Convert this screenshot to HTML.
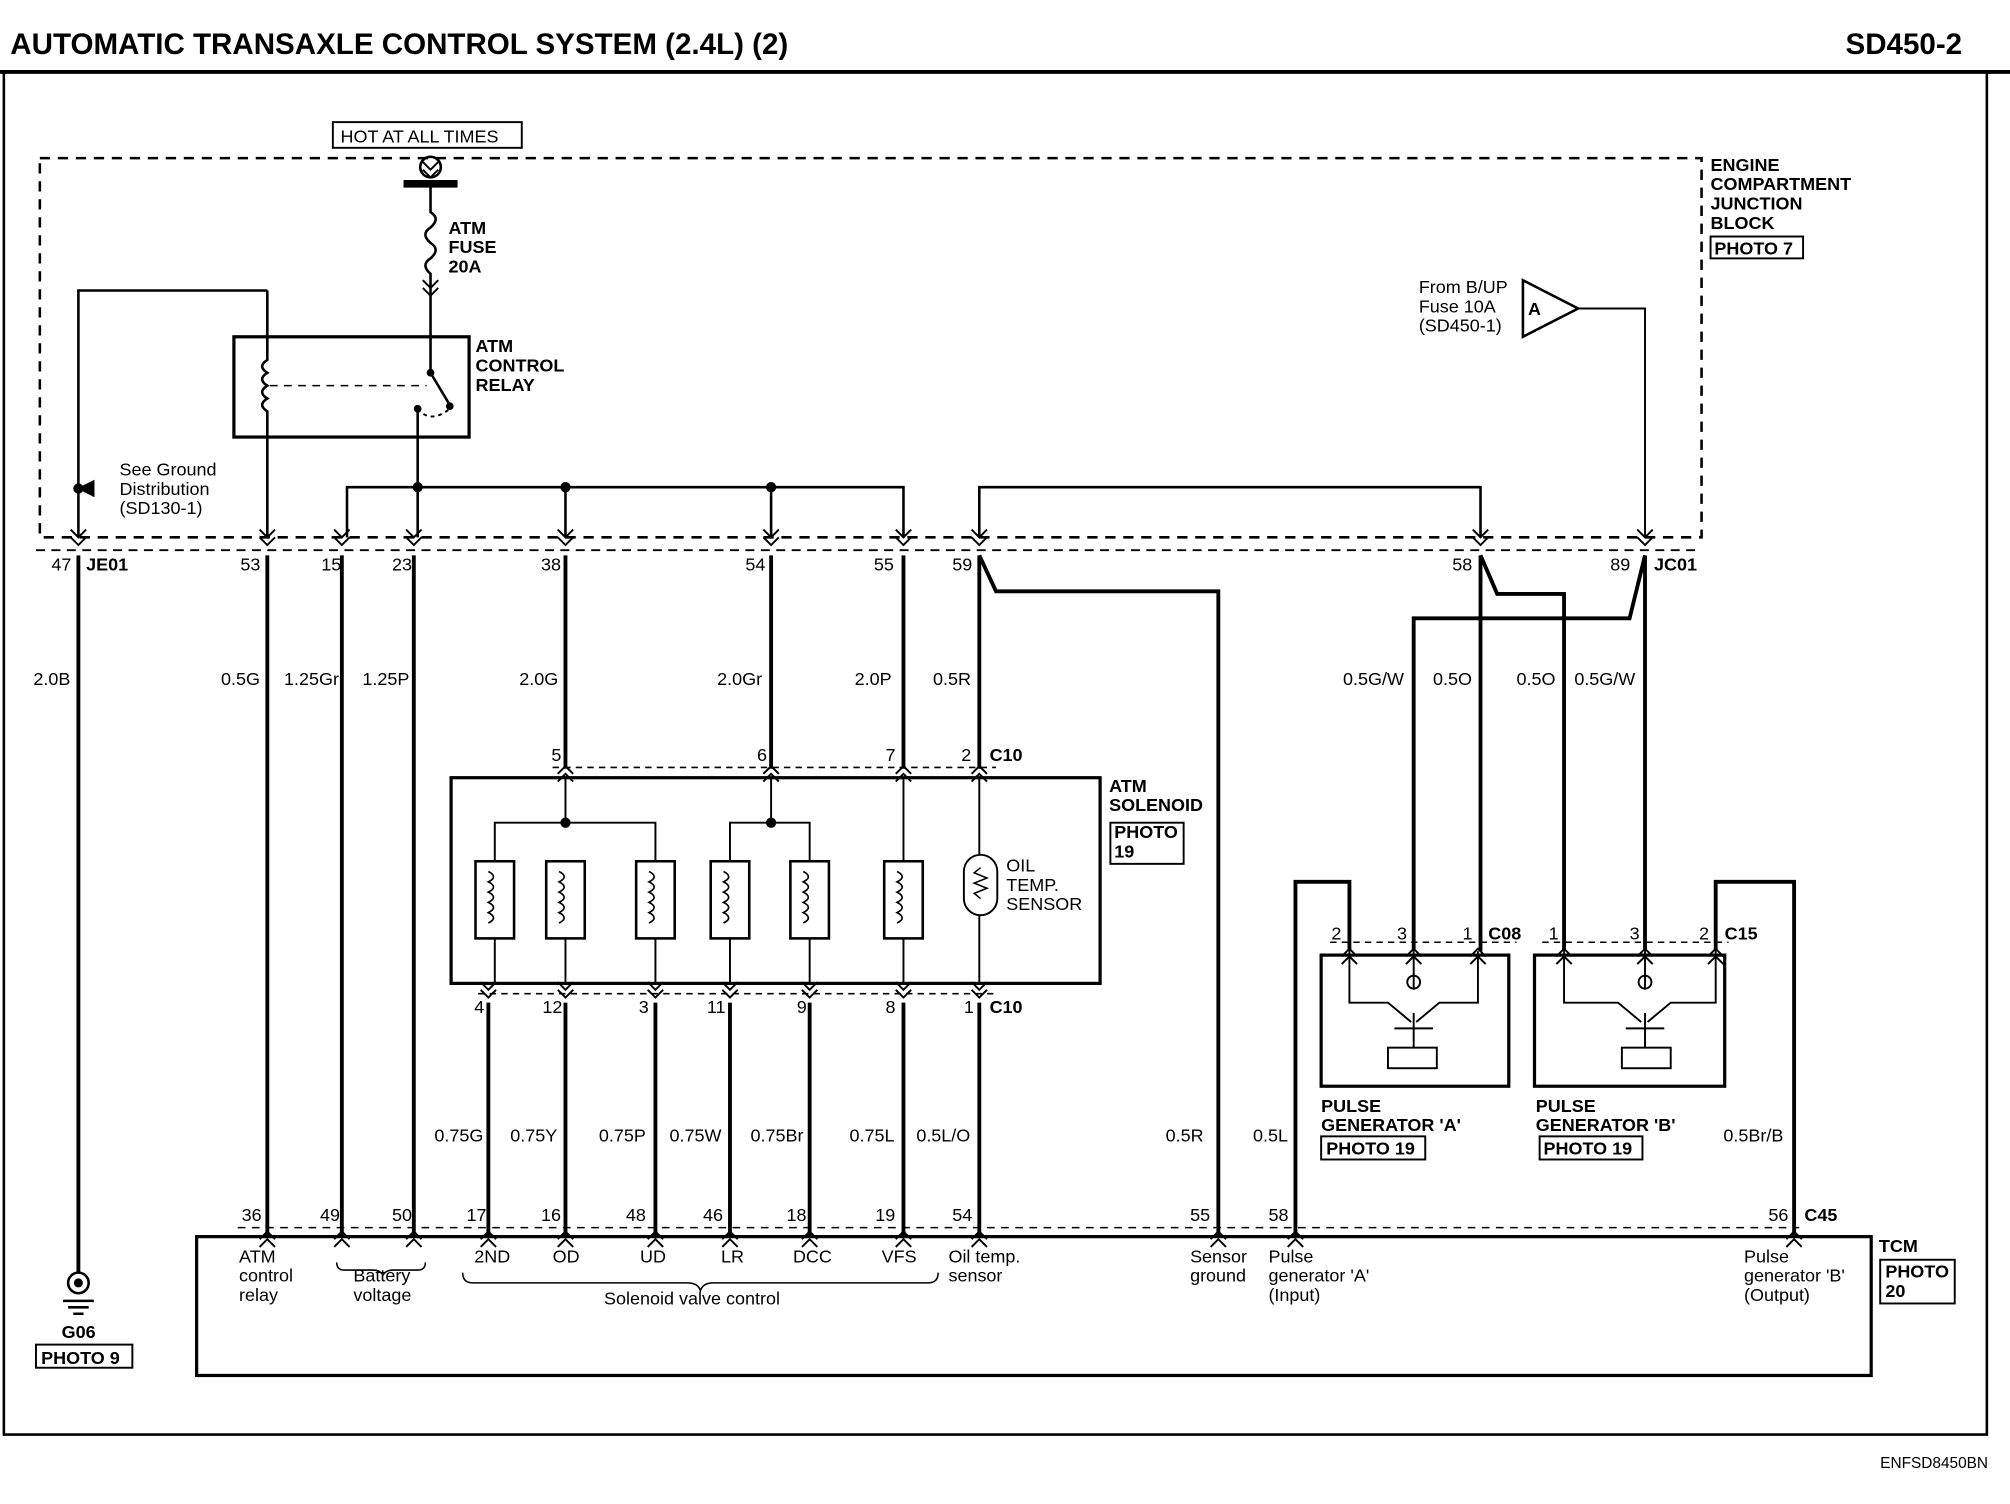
<!DOCTYPE html>
<html><head><meta charset="utf-8"><style>
html,body{margin:0;padding:0;background:#fff}
svg{display:block}
text{font-family:"Liberation Sans",Arial,sans-serif;font-size:14px;fill:#000}
.b{font-weight:bold}
</style></head><body>
<svg width="2010" height="1504" viewBox="0 0 1564 1170" preserveAspectRatio="none" xmlns="http://www.w3.org/2000/svg">
<defs>
<g id="cd" fill="none" stroke="#000" stroke-width="1.5"><path d="M-6,-14 L0,-8 L6,-14 M-6,-8 L0,-2 L6,-8"/></g>
<g id="cu" fill="none" stroke="#000" stroke-width="1.5"><path d="M-6,14 L0,8 L6,14 M-6,8 L0,2 L6,8"/></g>
</defs>
<rect width="1564" height="1170" fill="#fff"/>
<text x="8" y="42" class="b" style="font-size:23px">AUTOMATIC TRANSAXLE CONTROL SYSTEM (2.4L) (2)</text>
<text x="1436" y="42" class="b" style="font-size:23px">SD450-2</text>
<g stroke="#000" fill="none">
<line x1="0" y1="56" x2="1564" y2="56" stroke-width="3"/>
<path d="M3,56 V1116 H1546 V56" stroke-width="2"/>
<!-- junction block -->
<rect x="31" y="123" width="1293" height="295" stroke-width="2" stroke-dasharray="8,6"/>
<rect x="259" y="95" width="147" height="20" stroke-width="1.5"/>
<circle cx="335" cy="130" r="8" stroke-width="2"/>
<line x1="314" y1="143" x2="356" y2="143" stroke-width="6"/>
<path d="M335,145 V165 q8,5 0,12 q-8,5 0,12 q8,5 0,12 q-8,5 0,12 V262" stroke-width="2"/>
<!-- relay -->
<rect x="182" y="262" width="183" height="78" stroke-width="2.5"/>
<path d="M208,226 V280 q-8,5 0,10 q-8,5 0,10 q-8,5 0,10 q-8,5 0,10 V418" stroke-width="2"/>
<path d="M208,226 H61 V418" stroke-width="2"/>
<path d="M210,300 H332" stroke-width="1.2" stroke-dasharray="6,5"/>
<path d="M335,262 V290 L350,315" stroke-width="2"/>
<path d="M325,318 q10,12 25,0" stroke-width="1.5" stroke-dasharray="3,3"/>
<path d="M325,318 V418" stroke-width="2"/>
<path d="M270,418 V379 H703 V418 M440,379 V418 M600,379 V418" stroke-width="2"/>
<path d="M762,418 V379 H1152 V418" stroke-width="2"/>
<path d="M1185,218 L1228,240 L1185,262 Z" stroke-width="2"/>
<path d="M1228,240 H1280 V418" stroke-width="1.5"/>
<path d="M61,380 l12,-6 v12 z" fill="#000"/>
<line x1="28" y1="428" x2="1324" y2="428" stroke-width="1.5" stroke-dasharray="7,5"/>
<!-- wires below -->
<path d="M61,432 V990 M208,432 V962 M266,432 V962 M322,432 V962" stroke-width="3"/>
<path d="M440,432 V598 M600,432 V598 M703,432 V598 M762,432 V598" stroke-width="3"/>
<path d="M762,432 L775,460 H948 V962" stroke-width="3"/>
<path d="M1152,432 V740 M1152,432 L1165,462 H1217 V740" stroke-width="3"/>
<path d="M1280,432 V740 M1280,432 L1268,481 H1100 V740" stroke-width="3"/>
<!-- solenoid -->
<line x1="430" y1="597" x2="775" y2="597" stroke-width="1.2" stroke-dasharray="5,4"/>
<rect x="351" y="605" width="505" height="160" stroke-width="2.5"/>
<path d="M440,605 V640 M385,670 V640 H510 V670 M600,605 V640 M568,670 V640 H630 V670 M703,605 V670 M762,605 V665" stroke-width="1.5"/>
<g stroke-width="2">
<rect x="370" y="670" width="30" height="60"/><rect x="425" y="670" width="30" height="60"/><rect x="495" y="670" width="30" height="60"/>
<rect x="553" y="670" width="30" height="60"/><rect x="615" y="670" width="30" height="60"/><rect x="688" y="670" width="30" height="60"/>
</g>
<g stroke-width="1.3">
<path d="M380,678 q8,4 0,8 q8,4 0,8 q8,4 0,8 q8,4 0,8 q8,4 0,8 M435,678 q8,4 0,8 q8,4 0,8 q8,4 0,8 q8,4 0,8 q8,4 0,8 M505,678 q8,4 0,8 q8,4 0,8 q8,4 0,8 q8,4 0,8 q8,4 0,8 M563,678 q8,4 0,8 q8,4 0,8 q8,4 0,8 q8,4 0,8 q8,4 0,8 M625,678 q8,4 0,8 q8,4 0,8 q8,4 0,8 q8,4 0,8 q8,4 0,8 M698,678 q8,4 0,8 q8,4 0,8 q8,4 0,8 q8,4 0,8 q8,4 0,8"/>
</g>
<path d="M385,730 V765 M440,730 V765 M510,730 V765 M568,730 V765 M630,730 V765 M703,730 V765 M762,712 V765" stroke-width="1.5"/>
<rect x="750" y="665" width="26" height="47" rx="13" stroke-width="1.5"/>
<path d="M763,675 l-5,4 l10,4 l-10,4 l10,4 l-10,4 l5,4" stroke-width="1.2"/>
<line x1="372" y1="773" x2="775" y2="773" stroke-width="1.2" stroke-dasharray="5,4"/>
<path d="M380,780 V962 M440,780 V962 M510,780 V962 M568,780 V962 M630,780 V962 M703,780 V962 M762,780 V962" stroke-width="3"/>
<!-- pulse generators -->
<line x1="1035" y1="733" x2="1180" y2="733" stroke-width="1.2" stroke-dasharray="5,4"/>
<line x1="1200" y1="733" x2="1345" y2="733" stroke-width="1.2" stroke-dasharray="5,4"/>
<rect x="1028" y="743" width="146" height="102" stroke-width="2.5"/>
<rect x="1194" y="743" width="148" height="102" stroke-width="2.5"/>
<path d="M1050,740 V780 H1080 L1098,795 M1150,740 V780 H1120 L1102,795 M1100,740 V770 M1100,788 V800 M1085,800 H1115 M1100,800 V815" stroke-width="1.5"/>
<circle cx="1100" cy="764" r="5" stroke-width="1.5"/>
<rect x="1080" y="815" width="38" height="16" stroke-width="1.5"/>
<path d="M1217,740 V780 H1259 L1277,795 M1335,740 V780 H1300 L1282,795 M1280,740 V770 M1280,788 V800 M1265,800 H1295 M1280,800 V815" stroke-width="1.5"/>
<circle cx="1280" cy="764" r="5" stroke-width="1.5"/>
<rect x="1262" y="815" width="38" height="16" stroke-width="1.5"/>
<path d="M1050,740 V686 H1008 V962" stroke-width="3"/>
<path d="M1335,740 V686 H1396 V962" stroke-width="3"/>
<!-- TCM -->
<line x1="185" y1="955" x2="1400" y2="955" stroke-width="1.2" stroke-dasharray="6,5"/>
<rect x="153" y="962" width="1303" height="108" stroke-width="2.5"/>
<path d="M360,990 q0,8 8,8 H535 q8,0 10,6 q2,-6 10,-6 H722 q8,0 8,-8" stroke-width="1.2"/>
<path d="M262,982 q0,6 6,6 H290 q6,0 8,4 q2,-4 8,-4 H325 q6,0 6,-6" stroke-width="1.2"/>
<!-- ground -->
<circle cx="61" cy="998" r="8" stroke-width="2"/>
<circle cx="61" cy="998" r="3" fill="#000"/>
<path d="M49,1012 H73 M53,1017 H69 M57,1022 H65" stroke-width="2"/>
<rect x="28" y="1046" width="75" height="18" stroke-width="1.5"/>
<rect x="1331" y="184" width="72" height="17" stroke-width="1.5"/>
<rect x="864" y="640" width="57" height="32" stroke-width="1.5"/>
<rect x="1028" y="884" width="81" height="18" stroke-width="1.5"/>
<rect x="1198" y="884" width="80" height="18" stroke-width="1.5"/>
<rect x="1463" y="980" width="58" height="34" stroke-width="1.5"/>
</g>
<g fill="#000">
<circle cx="61" cy="380" r="4"/><circle cx="325" cy="379" r="4"/><circle cx="440" cy="379" r="4"/><circle cx="600" cy="379" r="4"/>
<circle cx="440" cy="640" r="4"/><circle cx="600" cy="640" r="4"/>
<circle cx="335" cy="290" r="3"/><circle cx="350" cy="316" r="3"/><circle cx="325" cy="318" r="3"/>
</g>
<!-- chevrons -->
<g>
<use href="#cd" x="335" y="140"/>
<use href="#cd" x="335" y="232"/>
<use href="#cd" x="61" y="426"/><use href="#cd" x="208" y="426"/><use href="#cd" x="266" y="426"/><use href="#cd" x="322" y="426"/>
<use href="#cd" x="440" y="426"/><use href="#cd" x="600" y="426"/><use href="#cd" x="703" y="426"/><use href="#cd" x="762" y="426"/>
<use href="#cd" x="1152" y="426"/><use href="#cd" x="1280" y="426"/>
<use href="#cu" x="440" y="594"/><use href="#cu" x="600" y="594"/><use href="#cu" x="703" y="594"/><use href="#cu" x="762" y="594"/>
<use href="#cd" x="380" y="778"/><use href="#cd" x="440" y="778"/><use href="#cd" x="510" y="778"/><use href="#cd" x="568" y="778"/><use href="#cd" x="630" y="778"/><use href="#cd" x="703" y="778"/><use href="#cd" x="762" y="778"/>
<use href="#cu" x="1050" y="736"/><use href="#cu" x="1100" y="736"/><use href="#cu" x="1150" y="736"/>
<use href="#cu" x="1217" y="736"/><use href="#cu" x="1280" y="736"/><use href="#cu" x="1335" y="736"/>
<use href="#cu" x="208" y="956"/><use href="#cu" x="266" y="956"/><use href="#cu" x="322" y="956"/><use href="#cu" x="380" y="956"/><use href="#cu" x="440" y="956"/><use href="#cu" x="510" y="956"/><use href="#cu" x="568" y="956"/><use href="#cu" x="630" y="956"/><use href="#cu" x="703" y="956"/><use href="#cu" x="762" y="956"/><use href="#cu" x="948" y="956"/><use href="#cu" x="1008" y="956"/><use href="#cu" x="1396" y="956"/>
</g>
<!-- text -->
<text x="265" y="111">HOT AT ALL TIMES</text>
<text x="349" y="182" class="b">ATM</text><text x="349" y="197" class="b">FUSE</text><text x="349" y="212" class="b">20A</text>
<text x="370" y="274" class="b">ATM</text><text x="370" y="289" class="b">CONTROL</text><text x="370" y="304" class="b">RELAY</text>
<text x="93" y="370">See Ground</text><text x="93" y="385">Distribution</text><text x="93" y="400">(SD130-1)</text>
<text x="1331" y="133" class="b">ENGINE</text><text x="1331" y="148" class="b">COMPARTMENT</text><text x="1331" y="163" class="b">JUNCTION</text><text x="1331" y="178" class="b">BLOCK</text><text x="1334" y="198" class="b">PHOTO 7</text>
<text x="1104" y="228">From B/UP</text><text x="1104" y="243">Fuse 10A</text><text x="1104" y="258">(SD450-1)</text>
<text x="1189" y="245" class="b">A</text>
<text x="40" y="444">47</text><text x="67" y="444" class="b">JE01</text>
<text x="187" y="444">53</text><text x="250" y="444">15</text><text x="305" y="444">23</text>
<text x="421" y="444">38</text><text x="580" y="444">54</text><text x="680" y="444">55</text><text x="741" y="444">59</text>
<text x="1130" y="444">58</text><text x="1253" y="444">89</text><text x="1287" y="444" class="b">JC01</text>
<text x="26" y="533">2.0B</text><text x="172" y="533">0.5G</text><text x="221" y="533">1.25Gr</text><text x="282" y="533">1.25P</text>
<text x="404" y="533">2.0G</text><text x="558" y="533">2.0Gr</text><text x="665" y="533">2.0P</text><text x="726" y="533">0.5R</text>
<text x="1045" y="533">0.5G/W</text><text x="1115" y="533">0.5O</text><text x="1180" y="533">0.5O</text><text x="1225" y="533">0.5G/W</text>
<text x="429" y="592">5</text><text x="589" y="592">6</text><text x="689" y="592">7</text><text x="748" y="592">2</text><text x="770" y="592" class="b">C10</text>
<text x="863" y="616" class="b">ATM</text><text x="863" y="631" class="b">SOLENOID</text><text x="867" y="652" class="b">PHOTO</text><text x="867" y="667" class="b">19</text>
<text x="783" y="678">OIL</text><text x="783" y="693">TEMP.</text><text x="783" y="708">SENSOR</text>
<text x="369" y="788">4</text><text x="422" y="788">12</text><text x="497" y="788">3</text><text x="550" y="788">11</text><text x="620" y="788">9</text><text x="689" y="788">8</text><text x="750" y="788">1</text><text x="770" y="788" class="b">C10</text>
<text x="1036" y="731">2</text><text x="1087" y="731">3</text><text x="1138" y="731">1</text><text x="1158" y="731" class="b">C08</text>
<text x="1205" y="731">1</text><text x="1268" y="731">3</text><text x="1322" y="731">2</text><text x="1342" y="731" class="b">C15</text>
<text x="1028" y="865" class="b">PULSE</text><text x="1028" y="880" class="b">GENERATOR 'A'</text><text x="1032" y="898" class="b">PHOTO 19</text>
<text x="1195" y="865" class="b">PULSE</text><text x="1195" y="880" class="b">GENERATOR 'B'</text><text x="1201" y="898" class="b">PHOTO 19</text>
<text x="338" y="888">0.75G</text><text x="397" y="888">0.75Y</text><text x="466" y="888">0.75P</text><text x="521" y="888">0.75W</text><text x="584" y="888">0.75Br</text><text x="661" y="888">0.75L</text><text x="713" y="888">0.5L/O</text>
<text x="907" y="888">0.5R</text><text x="975" y="888">0.5L</text><text x="1341" y="888">0.5Br/B</text>
<text x="188" y="950">36</text><text x="249" y="950">49</text><text x="305" y="950">50</text><text x="363" y="950">17</text><text x="421" y="950">16</text><text x="487" y="950">48</text><text x="547" y="950">46</text><text x="612" y="950">18</text><text x="681" y="950">19</text><text x="741" y="950">54</text><text x="926" y="950">55</text><text x="987" y="950">58</text><text x="1376" y="950">56</text><text x="1404" y="950" class="b">C45</text>
<text x="186" y="982">ATM</text><text x="186" y="997">control</text><text x="186" y="1012">relay</text>
<text x="275" y="997">Battery</text><text x="275" y="1012">voltage</text>
<text x="369" y="982">2ND</text><text x="430" y="982">OD</text><text x="498" y="982">UD</text><text x="561" y="982">LR</text><text x="617" y="982">DCC</text><text x="686" y="982">VFS</text>
<text x="470" y="1015">Solenoid valve control</text>
<text x="738" y="982">Oil temp.</text><text x="738" y="997">sensor</text>
<text x="926" y="982">Sensor</text><text x="926" y="997">ground</text>
<text x="987" y="982">Pulse</text><text x="987" y="997">generator 'A'</text><text x="987" y="1012">(Input)</text>
<text x="1357" y="982">Pulse</text><text x="1357" y="997">generator 'B'</text><text x="1357" y="1012">(Output)</text>
<text x="1462" y="974" class="b">TCM</text><text x="1467" y="994" class="b">PHOTO</text><text x="1467" y="1009" class="b">20</text>
<text x="48" y="1041" class="b">G06</text><text x="32" y="1061" class="b">PHOTO 9</text>
<text x="1463" y="1142" style="font-size:12px">ENFSD8450BN</text>
</svg>
</body></html>
